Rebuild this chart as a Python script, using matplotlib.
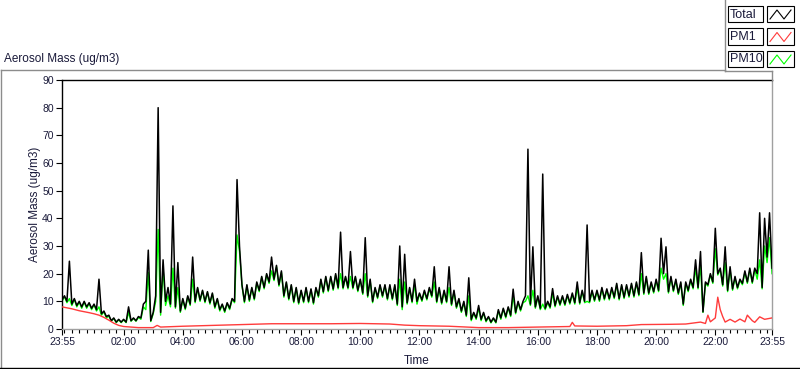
import numpy as np
import matplotlib
matplotlib.use("Agg")
import matplotlib.pyplot as plt
from matplotlib.lines import Line2D
from matplotlib.patches import Rectangle

plt.rcParams['font.family'] = ['Liberation Sans', 'DejaVu Sans']

# --- data: 10-min lows (23:55, 00:05, ...) and highs (00:00, 00:10, ...) ---
total_lo = [
    10.5, 10, 9, 8.5, 8, 8,
    7.5, 7, 5.5, 4.5, 3, 2.5,
    2.5, 2.5, 3, 3, 4, 10,
    3, 12, 6, 10, 9, 8,
    6.5, 7.5, 9, 10, 10.5, 10,
    9.5, 8, 7, 6.5, 7.5, 10,
    30, 10, 10.5, 11, 14, 15,
    17, 18, 16, 12, 11, 10,
    9.5, 10, 10, 9.5, 12, 13.5,
    14, 14.5, 15, 15, 15, 15,
    14, 13, 12, 10, 11.5, 12,
    11, 11, 9, 8, 9.5, 10,
    10, 10.5, 11, 12, 10, 9.5,
    10, 9, 8, 6.5, 5, 3.5,
    4, 3.5, 3, 2.5, 2.5, 4,
    4.5, 5, 6, 7, 12, 9,
    8, 7.5, 7.5, 8, 8.5, 9,
    9, 9.5, 9.5, 9.5, 10, 10,
    10.5, 10.5, 11, 11, 11.5, 11,
    11.5, 12, 12, 12.5, 13, 13,
    13.5, 14, 20, 13.5, 14, 13,
    9, 14, 15, 15, 6.2, 16,
    17, 20, 16, 14, 14.5, 15,
    16.5, 17, 17, 20, 15, 26, 22,
]
total_hi = [
    12, 24.5, 11, 10, 10, 9.5,
    9, 18, 6.5, 5, 4, 3.5,
    3.5, 8, 4, 4.5, 9, 28.5,
    6, 80, 25, 15, 44.5, 24,
    11, 12, 26, 15, 14, 13.5,
    13, 11, 9, 9.5, 11, 54,
    16, 16, 15, 17, 19, 20,
    26, 23, 21, 17, 16, 15,
    14, 15, 14.5, 15, 18, 19,
    19, 20, 35, 19, 28, 19,
    18, 33, 18, 15, 16, 16,
    16, 16, 30, 27, 15, 18,
    13, 14, 15, 22.5, 15, 14,
    22.5, 14, 11, 10, 18.5, 6,
    8.5, 6, 4.5, 4, 7, 7.5,
    8, 14.4, 10, 10, 65, 29.7,
    12, 56, 10, 14.6, 12, 12,
    12.5, 13, 17, 14, 37.6, 14,
    14, 15, 14.5, 15, 16.5, 16,
    16, 16.5, 17, 27.6, 19, 17,
    18, 32.8, 29.7, 19, 18, 17,
    17, 18, 25, 28, 17, 20,
    36.4, 22, 29.7, 22.5, 19, 18,
    21, 22, 22, 42, 40, 42,
]
pm10_lo = [
    10, 9.5, 8.5, 8, 7.5, 7.5,
    7, 6.5, 5, 4, 2.8, 2.3,
    2.3, 2.3, 2.8, 2.8, 3.5, 7,
    2.7, 10, 5, 8.5, 8, 7.5,
    6, 7, 8.5, 9.5, 10, 9.5,
    9, 7.5, 6.5, 6, 7, 9.5,
    28, 9.5, 10, 10.5, 13.5, 14.5,
    16.5, 17.5, 15.5, 11.5, 10.5, 9.5,
    9, 9.5, 9.5, 9, 11.5, 13,
    13.5, 14, 14.5, 14.5, 14.5, 14.5,
    13.5, 12.5, 11.5, 9.5, 11, 11.5,
    10.5, 10.5, 8.5, 7, 9, 9.5,
    9, 10, 10.5, 11.5, 9.5, 9,
    9.5, 8.5, 7.5, 6, 4.5, 3,
    3.5, 3, 2.6, 2.2, 2.2, 3.5,
    4, 4.5, 5.5, 6.5, 10, 8.5,
    7.5, 7, 7, 7.5, 8, 8.5,
    8.5, 9, 9, 9, 9.5, 9.5,
    10, 10, 10.5, 10.5, 11, 10.5,
    11, 11.5, 11.5, 12, 12.5, 12.5,
    13, 13.5, 18, 13, 13.5, 12.5,
    8.5, 13.5, 14.5, 14.5, 6, 15.5,
    16.5, 19.5, 15.5, 13.5, 14, 14.5,
    16, 16.5, 16.5, 18, 14.5, 24, 20,
]
pm10_hi = [
    11.7, 11, 10.7, 9.7, 9.7, 9.2,
    8.7, 8, 6.2, 4.7, 3.8, 3.3,
    3.3, 6, 3.8, 4.2, 8, 20.5,
    5.5, 36, 22, 12, 22, 15,
    10.7, 11.7, 18, 14.7, 13.7, 13.2,
    12.7, 10.7, 8.7, 9.2, 10.7, 34,
    15.7, 15.7, 14.7, 16.7, 18.7, 19.7,
    21, 22.5, 20.5, 16.7, 15.7, 14.7,
    13.7, 14.7, 14.2, 14.7, 17.7, 18.7,
    18.7, 19.5, 20, 18.7, 19, 18.7,
    17.7, 20, 17.5, 14.7, 15.7, 15.7,
    15.5, 15.5, 18, 17, 14.7, 16,
    12.7, 13.5, 14.5, 17, 14.5, 13.5,
    15, 13.5, 10.5, 9.5, 12, 5.7,
    7.5, 5.7, 4.2, 3.7, 6.5, 7.2,
    7.7, 12, 9.5, 9.5, 12, 14,
    11.5, 9, 9.5, 13, 11.5, 11.5,
    12, 12.5, 15, 13.5, 10, 13.5,
    13.5, 14.5, 14, 14.5, 16, 15.5,
    15.5, 16, 16.5, 20, 18.5, 16.5,
    17.5, 22, 20, 18.5, 17.5, 16.5,
    16.5, 17.5, 22, 23, 16.5, 19.5,
    29, 21.5, 24, 21.5, 18.5, 17.5,
    20.5, 21.5, 21.5, 25, 30, 33,
]

pm1_time = ["23:55", "00:15", "00:30", "00:50", "01:00", "01:10", "01:20", "01:30",
            "01:40", "01:50", "02:00", "02:30", "03:00", "03:08", "03:15", "04:00",
            "05:00", "06:00", "07:00", "08:00", "09:00", "10:00", "11:00", "11:30",
            "12:00", "13:00", "14:00", "15:00", "16:00", "17:05", "17:10", "17:15",
            "18:00", "19:00", "19:30", "20:30", "21:00", "21:30", "21:40", "21:45",
            "21:50", "22:00", "22:05", "22:10", "22:15", "22:20", "22:30", "22:40",
            "22:50", "23:00", "23:05", "23:15", "23:20", "23:30", "23:40", "23:55"]
pm1_vals = [8.0, 7.3, 6.6, 5.9, 5.5, 5.0, 4.2, 3.2,
            2.1, 1.3, 0.9, 0.5, 0.5, 1.3, 0.7, 1.0,
            1.3, 1.6, 1.9, 1.9, 1.9, 2.0, 1.8, 1.4,
            1.2, 1.0, 0.5, 0.5, 0.7, 0.9, 2.4, 1.1,
            1.0, 1.2, 1.6, 1.7, 1.8, 2.5, 2.0, 5.0,
            2.6, 4.0, 11.5, 7.0, 4.5, 2.5, 3.5, 2.5,
            3.6, 2.6, 5.0, 3.0, 2.4, 4.4, 3.5, 4.0]

x_labels = ["23:55", "02:00", "04:00", "06:00", "08:00", "10:00", "12:00",
            "14:00", "16:00", "18:00", "20:00", "22:00", "23:55"]


def to_min(s, last=False):
    # minutes since the 23:55 start
    h, m = map(int, s.split(":"))
    t = (h * 60 + m + 5) % 1440
    return 1440 if (last and t == 0) else t


def zigzag(lo, hi):
    t = np.arange(len(lo) + len(hi)) * 5.0
    v = np.empty(len(t))
    v[0::2] = lo
    v[1::2] = hi
    return t, v


t_tot, v_tot = zigzag(total_lo, total_hi)
t_p10, v_p10 = zigzag(pm10_lo, pm10_hi)
t_p1 = [to_min(s, last=(i == len(pm1_time) - 1)) for i, s in enumerate(pm1_time)]

W, H = 800, 369
fig = plt.figure(figsize=(W / 100, H / 100), dpi=100)
fig.patch.set_facecolor("white")
ax = fig.add_axes([62 / W, 40 / H, 710 / W, 249 / H])

ax.plot(t_p10, v_p10, color="#00ff00", lw=1.0, zorder=2)
ax.plot(t_tot, v_tot, color="black", lw=1.1, zorder=3)
ax.plot(t_p1, pm1_vals, color="#ff3b3b", lw=1.0, zorder=4)

ax.set_xlim(0, 1440)
ax.set_ylim(0, 90)
ax.set_yticks(range(0, 91, 10))
xpos = [to_min(s, last=(i == len(x_labels) - 1)) for i, s in enumerate(x_labels)]
ax.set_xticks(xpos)
ax.set_xticklabels(x_labels)
ax.set_xticks(np.arange(5, 1440, 15), minor=True)

txt = "#1a1a3a"
ax.tick_params(axis="both", which="major", direction="out", length=4, width=0.8,
               labelsize=7.5, labelcolor=txt, pad=2)
ax.tick_params(axis="x", which="minor", direction="out", length=3, width=0.8)

for side in ("left", "top"):
    ax.spines[side].set_color("black")
for side in ("bottom", "right"):
    ax.spines[side].set_color("#a0a0a0")
for sp in ax.spines.values():
    sp.set_linewidth(1.0)

ax.set_ylabel("Aerosol Mass (ug/m3)", fontsize=8.5, color=txt)
ax.yaxis.set_label_coords(-(62 - 41) / 710, 0.5)
ax.set_xlabel("Time", fontsize=8.5, color=txt)
ax.xaxis.set_label_coords(0.5, -(355 - 329) / 249)

fig.text(4 / W, 1 - 59 / H, "Aerosol Mass (ug/m3)", fontsize=8.5, color=txt,
         ha="left", va="center")


def fline(xs, ys, color="#8c8c8c", lw=1.0):
    fig.add_artist(Line2D([x / W for x in xs], [1 - y / H for y in ys],
                          color=color, lw=lw, transform=fig.transFigure))


# panel frame
fline([0.5, 725], [69.5, 69.5])
fline([725, 725], [0, 71])
fline([725, 772], [71, 71])
fline([772, 772], [71, 80])
fline([0.5, 0.5], [69.5, 368])
fline([0, 800], [367.5, 367.5], color="black")

# legend
leg_names = ["Total", "PM1", "PM10"]
leg_colors = ["black", "#ff3b3b", "#00ff00"]
for i, (name, col) in enumerate(zip(leg_names, leg_colors)):
    y0 = 6 + i * 22.5
    fig.add_artist(Rectangle((728 / W, 1 - (y0 + 16) / H), 35 / W, 16 / H,
                             transform=fig.transFigure, facecolor="white",
                             edgecolor="black", lw=0.8))
    fig.text(730 / W, 1 - (y0 + 8.5) / H, name, fontsize=9, color=txt,
             ha="left", va="center")
    fig.add_artist(Rectangle((767 / W, 1 - (y0 + 16) / H), 27 / W, 16 / H,
                             transform=fig.transFigure, facecolor="white",
                             edgecolor="black", lw=0.8))
    zx = [770, 777, 784, 791]
    zy = [y0 + 13, y0 + 4, y0 + 13, y0 + 4]
    fline(zx, zy, color=col, lw=0.8)

fig.savefig("out.png", dpi=100)
